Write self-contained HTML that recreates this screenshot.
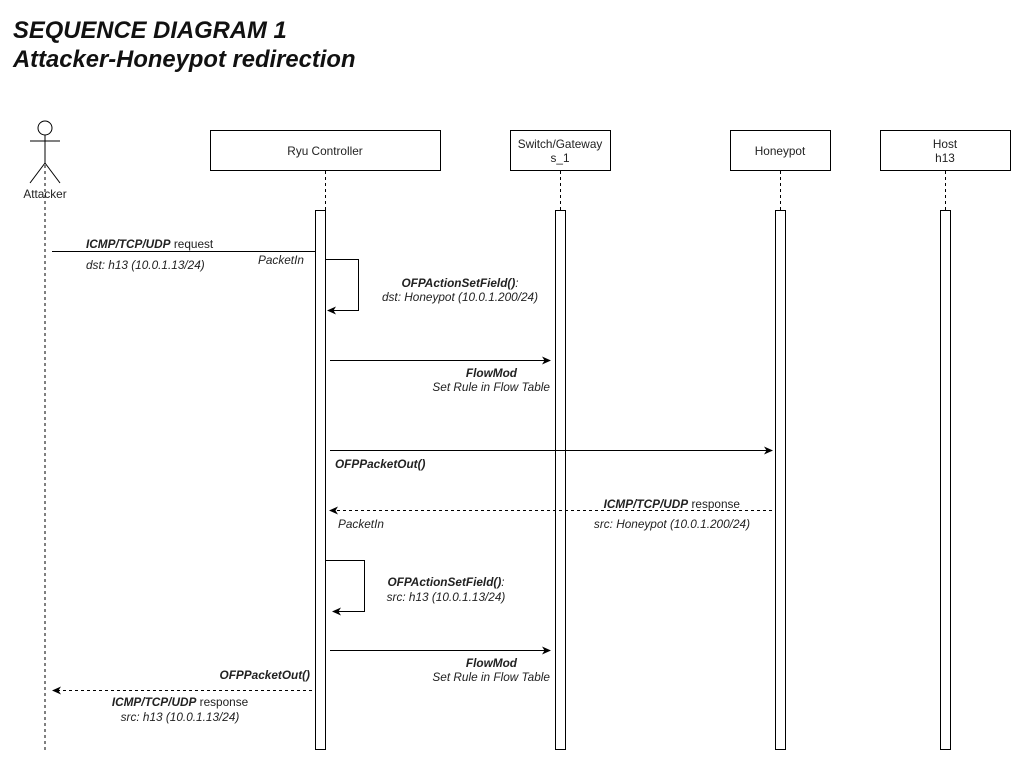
<!DOCTYPE html>
<html><head><meta charset="utf-8"><style>
body{margin:0;background:#fff;width:1021px;height:762px;overflow:hidden}
text{font-family:"Liberation Sans",Arial,sans-serif;font-size:11.8px;fill:#222}
.t{font-size:23.8px;font-weight:bold;font-style:italic;fill:#111}
.i{font-style:italic}
.b{font-weight:bold;font-style:italic}
</style></head><body>
<svg width="1021" height="762" xmlns="http://www.w3.org/2000/svg">
<defs><marker id="a" markerWidth="9" markerHeight="9" refX="8" refY="4.5" orient="auto" markerUnits="userSpaceOnUse"><path d="M0,0.5 L9,4.5 L0,8.5 L2.5,4.5 Z" fill="#000"/></marker></defs>
<text class="t" x="13" y="38">SEQUENCE DIAGRAM 1</text>
<text class="t" x="13" y="67">Attacker-Honeypot redirection</text>
<g stroke="#000" fill="none" stroke-width="1">
<circle cx="45" cy="128" r="7" fill="#fff"/>
<line x1="45" y1="135" x2="45" y2="163"/>
<line x1="30" y1="141" x2="60" y2="141"/>
<line x1="45" y1="163" x2="30" y2="183"/>
<line x1="45" y1="163" x2="60" y2="183"/>
<line x1="45" y1="165" x2="45" y2="750" stroke-dasharray="3,3"/>
<rect x="210.5" y="130.5" width="230" height="40"/>
<rect x="510.5" y="130.5" width="100" height="40"/>
<rect x="730.5" y="130.5" width="100" height="40"/>
<rect x="880.5" y="130.5" width="130" height="40"/>
<line x1="325.5" y1="171" x2="325.5" y2="210" stroke-dasharray="3,3"/>
<line x1="560.5" y1="171" x2="560.5" y2="210" stroke-dasharray="3,3"/>
<line x1="780.5" y1="171" x2="780.5" y2="210" stroke-dasharray="3,3"/>
<line x1="945.5" y1="171" x2="945.5" y2="210" stroke-dasharray="3,3"/>
<rect x="315.5" y="210.5" width="10" height="539" fill="#fff"/>
<rect x="555.5" y="210.5" width="10" height="539" fill="#fff"/>
<rect x="775.5" y="210.5" width="10" height="539" fill="#fff"/>
<rect x="940.5" y="210.5" width="10" height="539" fill="#fff"/>
<line x1="52" y1="251.5" x2="315" y2="251.5"/>
<path d="M326,259.5 H358.5 V310.5 H328" marker-end="url(#a)"/>
<line x1="330" y1="360.5" x2="550" y2="360.5" marker-end="url(#a)"/>
<line x1="330" y1="450.5" x2="772" y2="450.5" marker-end="url(#a)"/>
<line x1="772" y1="510.5" x2="330" y2="510.5" stroke-dasharray="3,3" marker-end="url(#a)"/>
<path d="M326,560.5 H364.5 V611.5 H333" marker-end="url(#a)"/>
<line x1="330" y1="650.5" x2="550" y2="650.5" marker-end="url(#a)"/>
<line x1="312" y1="690.5" x2="53" y2="690.5" stroke-dasharray="3,3" marker-end="url(#a)"/>
</g>
<text x="45" y="198" text-anchor="middle">Attacker</text>
<text x="325" y="155" text-anchor="middle">Ryu Controller</text>
<text x="560" y="148" text-anchor="middle">Switch/Gateway</text>
<text x="560" y="162" text-anchor="middle">s_1</text>
<text x="780" y="155" text-anchor="middle">Honeypot</text>
<text x="945" y="148" text-anchor="middle">Host</text>
<text x="945" y="162" text-anchor="middle">h13</text>
<text x="86" y="248"><tspan class="b">ICMP/TCP/UDP</tspan> request</text>
<text class="i" x="86" y="269">dst: h13 (10.0.1.13/24)</text>
<text class="i" x="258" y="264">PacketIn</text>
<text x="460" y="287" text-anchor="middle"><tspan class="b">OFPActionSetField()</tspan><tspan class="i">:</tspan></text>
<text class="i" x="460" y="301" text-anchor="middle">dst: Honeypot (10.0.1.200/24)</text>
<text class="b" x="517" y="377" text-anchor="end">FlowMod</text>
<text class="i" x="550" y="391" text-anchor="end">Set Rule in Flow Table</text>
<text class="b" x="335" y="468">OFPPacketOut()</text>
<text x="740" y="508" text-anchor="end"><tspan class="b">ICMP/TCP/UDP</tspan> response</text>
<text class="i" x="750" y="528" text-anchor="end">src: Honeypot (10.0.1.200/24)</text>
<text class="i" x="338" y="528">PacketIn</text>
<text x="446" y="586" text-anchor="middle"><tspan class="b">OFPActionSetField()</tspan><tspan class="i">:</tspan></text>
<text class="i" x="446" y="601" text-anchor="middle">src: h13 (10.0.1.13/24)</text>
<text class="b" x="517" y="667" text-anchor="end">FlowMod</text>
<text class="i" x="550" y="681" text-anchor="end">Set Rule in Flow Table</text>
<text class="b" x="310" y="679" text-anchor="end">OFPPacketOut()</text>
<text x="180" y="706" text-anchor="middle"><tspan class="b">ICMP/TCP/UDP</tspan> response</text>
<text class="i" x="180" y="721" text-anchor="middle">src: h13 (10.0.1.13/24)</text>
</svg>
</body></html>
